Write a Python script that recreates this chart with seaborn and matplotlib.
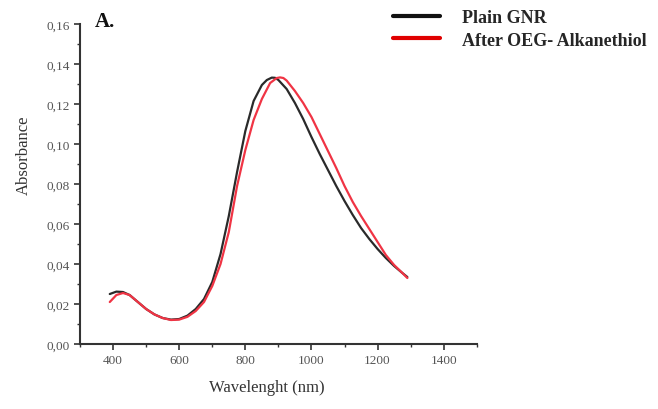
import numpy as np
import pandas as pd
import matplotlib
matplotlib.use("Agg")
import matplotlib.pyplot as plt
import seaborn as sns
from matplotlib.ticker import MultipleLocator, FuncFormatter
from matplotlib.lines import Line2D

# --- data ---
wl_plain = [390, 410, 430, 450, 475, 500, 525, 550, 575, 600, 625, 650, 675, 700,
            725, 750, 775, 800, 825, 850, 865, 880, 890, 900, 925, 950, 975, 1000, 1025,
            1050, 1075, 1100, 1125, 1150, 1175, 1200, 1225, 1250, 1275, 1290]
abs_plain = [0.025, 0.0262, 0.026, 0.0245, 0.021, 0.0175, 0.0148, 0.013, 0.0122, 0.0125,
             0.0142, 0.0175, 0.0225, 0.031, 0.045, 0.064, 0.086, 0.1065, 0.1215, 0.1295,
             0.1320, 0.1332, 0.1331, 0.1320, 0.1275, 0.1205, 0.1125, 0.1035, 0.095, 0.087,
             0.079, 0.0715, 0.0645, 0.058, 0.0525, 0.0475, 0.043, 0.039, 0.0355, 0.0335]

wl_oeg = [390, 410, 430, 450, 475, 500, 525, 550, 575, 600, 625, 650, 675, 700,
          725, 750, 775, 800, 825, 850, 875, 895, 905, 915, 925, 950, 975, 1000, 1025,
          1050, 1075, 1100, 1125, 1150, 1175, 1200, 1225, 1250, 1275, 1290]
abs_oeg = [0.021, 0.0245, 0.0255, 0.0245, 0.021, 0.0175, 0.0148, 0.013, 0.012, 0.0122,
           0.0136, 0.0165, 0.021, 0.029, 0.040, 0.056, 0.079, 0.097, 0.112, 0.1225,
           0.1305, 0.1330, 0.1333, 0.1330, 0.1317, 0.1265, 0.1205, 0.1135, 0.105, 0.0965,
           0.088, 0.079, 0.071, 0.064, 0.0575, 0.051, 0.0445, 0.0395, 0.0355, 0.033]

labels = ["Plain GNR", "After OEG- Alkanethiol"]
xticks = [400, 600, 800, 1000, 1200, 1400]

df = pd.concat([
    pd.DataFrame({"Wavelength": wl_plain, "Absorbance": abs_plain, "Sample": labels[0]}),
    pd.DataFrame({"Wavelength": wl_oeg, "Absorbance": abs_oeg, "Sample": labels[1]}),
])

sns.set_style("ticks")
plt.rcParams["font.family"] = ["Liberation Serif", "DejaVu Serif"]

fig = plt.figure(figsize=(6.58, 4.10), dpi=100)
ax = fig.add_axes([0.1216, 0.1585, 0.603, 0.7805])

palette = {labels[0]: "#2a2a2a", labels[1]: "#f03444"}
sns.lineplot(data=df, x="Wavelength", y="Absorbance", hue="Sample", palette=palette,
             linewidth=1.6, ax=ax, legend=False, sort=False)
for ln in ax.lines:
    ln.set_solid_joinstyle("round")
    ln.set_solid_capstyle("round")

ax.set_xlim(300, 1500)
ax.set_ylim(0, 0.16)
ax.set_xticks(xticks)
ax.xaxis.set_minor_locator(MultipleLocator(100))
ax.yaxis.set_major_locator(MultipleLocator(0.02))
ax.yaxis.set_minor_locator(MultipleLocator(0.01))
ax.yaxis.set_major_formatter(FuncFormatter(lambda v, p: f"{v:.2f}".replace(".", ",")))
ax.tick_params(axis="both", which="major", length=4, width=1.2, colors="#333333",
               labelsize=9.5, labelcolor="#555555", direction="out")
ax.tick_params(axis="both", which="minor", length=2.5, width=1.0, colors="#333333",
               direction="out")
for s in ["top", "right"]:
    ax.spines[s].set_visible(False)
for s in ["left", "bottom"]:
    ax.spines[s].set_linewidth(1.5)
    ax.spines[s].set_color("#333333")

ax.set_xlabel("Wavelenght (nm)", fontsize=12, color="#333333")
ax.set_ylabel("Absorbance", fontsize=12, color="#333333")
ax.xaxis.set_label_coords(0.47, -0.108)
ax.yaxis.set_label_coords(-0.121, 0.594)

handles = [Line2D([], [], color="#111111", lw=3), Line2D([], [], color="#e00000", lw=3)]
fig.legend(handles, labels, loc="upper left", bbox_to_anchor=(0.573, 1.015),
           frameon=False, handlelength=2.6, handletextpad=1.2, labelspacing=0.3,
           prop={"family": "Liberation Serif", "weight": "bold", "size": 13})

fig.text(0.144, 0.934, "A.", fontsize=15, fontweight="bold", color="#111111")

fig.savefig("out.png", dpi=100)
